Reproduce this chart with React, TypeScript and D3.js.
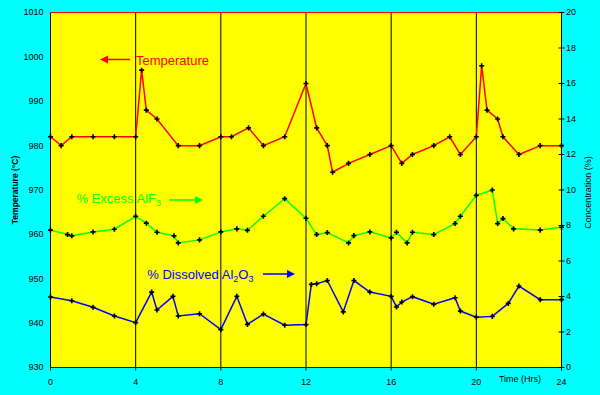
import React from "react";
import * as d3 from "d3";

const tempHours = [0, 0.5, 1, 2, 3, 4, 4.28, 4.5, 5, 6, 7, 8, 8.5, 9.3, 10, 11, 12, 12.5, 13, 13.25, 14, 15, 16, 16.5, 17, 18, 18.75, 19.25, 20, 20.25, 20.5, 21, 21.25, 22, 23, 24];
const tempValues = [982, 980, 982, 982, 982, 982, 997, 988, 986, 980, 980, 982, 982, 984, 980, 982, 994, 984, 980, 974, 976, 978, 980, 976, 978, 980, 982, 978, 982, 998, 988, 986, 982, 978, 980, 980];

const alf3Hours = [0, 0.8, 1, 2, 3, 4, 4.5, 5, 5.8, 6, 7, 8, 8.75, 9.25, 10, 11, 12, 12.5, 13, 14, 14.25, 15, 16, 16.25, 16.75, 17, 18, 19, 19.25, 20, 20.75, 21, 21.25, 21.75, 23, 24];
const alf3Values = [7.74, 7.49, 7.42, 7.64, 7.79, 8.52, 8.13, 7.62, 7.42, 7.02, 7.19, 7.64, 7.81, 7.73, 8.52, 9.51, 8.41, 7.49, 7.6, 7.02, 7.43, 7.64, 7.3, 7.62, 7.02, 7.62, 7.49, 8.11, 8.52, 9.7, 10.0, 8.11, 8.39, 7.81, 7.74, 7.9];

const al2o3Hours = [0, 1, 2, 3, 4, 4.75, 5, 5.75, 6, 7, 8, 8.75, 9.25, 10, 11, 12, 12.25, 12.5, 13, 13.75, 14.25, 15, 16, 16.25, 16.5, 17, 18, 19, 19.25, 20, 20.75, 21.5, 22, 23, 24];
const al2o3Values = [3.97, 3.76, 3.39, 2.9, 2.53, 4.25, 3.24, 4.01, 2.9, 3.03, 2.13, 4.01, 2.43, 3.01, 2.38, 2.42, 4.68, 4.72, 4.9, 3.13, 4.9, 4.25, 4.01, 3.41, 3.69, 3.99, 3.56, 3.93, 3.18, 2.83, 2.88, 3.61, 4.59, 3.82, 3.82];

const timeTicks = [0, 4, 8, 12, 16, 20, 24];
const tempTicks = [930, 940, 950, 960, 970, 980, 990, 1000, 1010];
const concTicks = [0, 2, 4, 6, 8, 10, 12, 14, 16, 18, 20];

const W = 600, H = 395;
const L = 50.5, R = 561.5, T = 12.5, B = 367.5;
const FONT = "'Liberation Sans', Arial, sans-serif";

export default function App() {
  const x = d3.scaleLinear().domain([0, 24]).range([L, R]);
  const yT = d3.scaleLinear().domain([930, 1010]).range([B, T]);
  const yC = d3.scaleLinear().domain([0, 20]).range([B, T]);

  const line = (xs: number[], ys: number[], y: d3.ScaleLinear<number, number>) =>
    d3.line<number>().x((_, i) => x(xs[i])).y((d) => y(d))(ys) || "";

  const marker = d3.symbol().type(d3.symbolCross).size(14)() || "";

  const series = [
    { xs: tempHours, ys: tempValues, y: yT, color: "#ff0000" },
    { xs: alf3Hours, ys: alf3Values, y: yC, color: "#00ff00" },
    { xs: al2o3Hours, ys: al2o3Values, y: yC, color: "#0000ff" },
  ];

  return (
    <svg width={W} height={H} style={{ position: "absolute", left: 0, top: 0 }} fontFamily={FONT}>
      <rect x={0} y={0} width={W} height={H} fill="#00ffff" />
      <rect x={L} y={T} width={R - L} height={B - T} fill="#ffff00" />
      {/* vertical grid */}
      {timeTicks.map((t) => (
        <line key={"g" + t} x1={x(t)} x2={x(t)} y1={T} y2={B + 3} stroke="#000" strokeWidth={1} />
      ))}
      <line x1={L} x2={R} y1={T} y2={T} stroke="#ff0000" strokeWidth={1} />
      <line x1={L} x2={R} y1={B} y2={B} stroke="#0000ff" strokeWidth={1} />
      <line x1={R} x2={R} y1={T} y2={B + 3} stroke="#000" strokeWidth={1} />
      {concTicks.map((c) => (
        <line key={"rt" + c} x1={R - 3} x2={R + 3} y1={yC(c)} y2={yC(c)} stroke="#000" strokeWidth={1} />
      ))}
      {/* series */}
      {series.map((s, k) => (
        <g key={"s" + k}>
          <path d={line(s.xs, s.ys, s.y)} fill="none" stroke={s.color} strokeWidth={1.5} />
          {s.ys.map((v, i) => (
            <path key={i} d={marker} transform={`translate(${x(s.xs[i])},${s.y(v)})`} fill="#000" />
          ))}
        </g>
      ))}
      {/* left tick labels */}
      {tempTicks.map((t) => (
        <text key={"lt" + t} x={43.5} y={yT(t)} dy="0.33em" textAnchor="end" fontSize={9} fill="#000">{t}</text>
      ))}
      {concTicks.map((c) => (
        <text key={"rl" + c} x={566} y={yC(c)} dy="0.33em" textAnchor="start" fontSize={9} fill="#000">{c}</text>
      ))}
      {timeTicks.map((t) => (
        <text key={"bl" + t} x={x(t)} y={384.5} textAnchor="middle" fontSize={9} fill="#000">{t}</text>
      ))}
      <text x={520} y={381.5} textAnchor="middle" fontSize={9} fill="#000">Time (Hrs)</text>
      <text transform="translate(17.5,190) rotate(-90)" textAnchor="middle" fontSize={8.5} fontWeight="bold" fill="#000">Temperature (°C)</text>
      <text transform="translate(590.5,192.5) rotate(-90)" textAnchor="middle" fontSize={9} fill="#000">Concentration (%)</text>
      {/* annotations */}
      <line x1={130} x2={106} y1={59.5} y2={59.5} stroke="#ff0000" strokeWidth={1.5} />
      <path d="M100,59.5 L108,55.5 L108,63.5 Z" fill="#ff0000" />
      <text x={136} y={65} fontSize={13} fill="#ff0000">Temperature</text>

      <text x={76.5} y={203.3} fontSize={13} fill="#00ff00">
        % Excess AlF<tspan fontSize={9} dy={3}>3</tspan>
      </text>
      <line x1={169} x2={197} y1={200} y2={200} stroke="#00ff00" strokeWidth={1.5} />
      <path d="M203,200 L195,196 L195,204 Z" fill="#00ff00" />

      <text x={147.3} y={278.5} fontSize={13} fill="#0000ff">
        % Dissolved Al<tspan fontSize={9} dy={3}>2</tspan><tspan dy={-3}>O</tspan><tspan fontSize={9} dy={3}>3</tspan>
      </text>
      <line x1={263} x2={289} y1={274} y2={274} stroke="#0000ff" strokeWidth={1.5} />
      <path d="M295,274 L287,270 L287,278 Z" fill="#0000ff" />
    </svg>
  );
}
